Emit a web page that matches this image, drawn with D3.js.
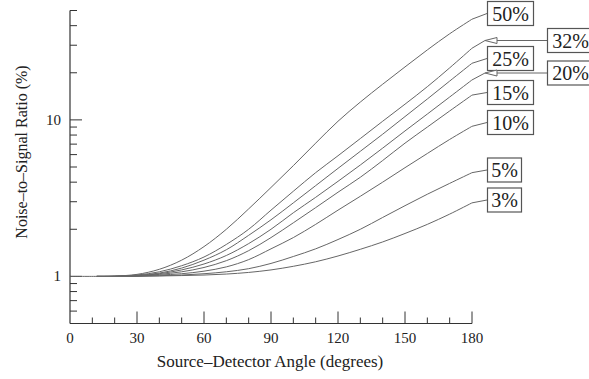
<!DOCTYPE html>
<html>
<head>
<meta charset="utf-8">
<script src="https://cdn.jsdelivr.net/npm/d3@7"></script>
<style>
  body { margin: 0; background: #fff; }
  svg text { font-family: "Liberation Serif", "Times New Roman", serif; }
</style>
</head>
<body>
<div id="chart"></div>
<script>
// Data
var angles = [0, 12, 20, 30, 40, 50, 60, 70, 80, 90, 100, 110, 120, 130, 140, 150, 160, 170, 180];

var labels = ["50%", "32%", "25%", "20%", "15%", "10%", "5%", "3%"];

var s50 = [null, 1, 1.005, 1.03, 1.11, 1.27, 1.55, 2.0, 2.7, 3.7, 5.1, 7.1, 9.8, 13.0, 16.9, 21.8, 28.0, 35.5, 44];
var s32 = [null, 1, 1.003, 1.02, 1.07, 1.17, 1.33, 1.6, 2.0, 2.65, 3.5, 4.6, 5.9, 7.6, 9.8, 12.6, 16.3, 21.5, 28.7];
var s25 = [null, 1, 1.0, 1.015, 1.05, 1.13, 1.27, 1.48, 1.83, 2.3, 2.95, 3.8, 4.9, 6.3, 8.1, 10.5, 13.6, 17.7, 23];
var s20 = [null, 1, 1.0, 1.01, 1.04, 1.1, 1.2, 1.36, 1.62, 2.0, 2.55, 3.2, 4.05, 5.15, 6.6, 8.5, 10.9, 14.0, 18];
var s15 = [null, 1, 1.0, 1.008, 1.03, 1.07, 1.14, 1.26, 1.46, 1.77, 2.2, 2.75, 3.45, 4.3, 5.5, 7.1, 9.0, 11.4, 14.4];
var s10 = [null, 1, 1.0, 1.005, 1.02, 1.04, 1.08, 1.15, 1.28, 1.5, 1.77, 2.15, 2.65, 3.25, 4.0, 4.95, 6.1, 7.5, 9.1];
var s5 = [null, 1, 1.0, 1.003, 1.01, 1.02, 1.04, 1.07, 1.12, 1.21, 1.34, 1.5, 1.72, 2.0, 2.38, 2.83, 3.35, 3.93, 4.6];
var s3 = [1, 1, 1.0, 1.002, 1.006, 1.012, 1.02, 1.035, 1.06, 1.1, 1.16, 1.24, 1.35, 1.49, 1.66, 1.88, 2.15, 2.5, 2.95];

var series = [s50, s32, s25, s20, s15, s10, s5, s3];

var xTicks = [0, 30, 60, 90, 120, 150, 180];
var yTicks = [1, 10];

// Layout of the label boxes (pixels)
var labelLayout = [
  {x: 487, cy: 13.5, arrow: false},
  {x: 547, cy: 40.5, arrow: true},
  {x: 487, cy: 58.5, arrow: false},
  {x: 547, cy: 73, arrow: true},
  {x: 487, cy: 92.5, arrow: false},
  {x: 487, cy: 122.5, arrow: false},
  {x: 487, cy: 170, arrow: false},
  {x: 487, cy: 200, arrow: false}
];

var svgWidth = 589;
var svgHeight = 379;

var svg = d3.select("#chart")
  .append("svg")
  .attr("width", svgWidth)
  .attr("height", svgHeight);

var x = d3.scaleLinear().domain([0, 180]).range([70, 472]);
var y = d3.scaleLog().domain([0.5, 50]).range([323.5, 10.5]);

var axisColor = "#333";
var textColor = "#222";

// axes lines
svg.append("line")
  .attr("x1", x(0)).attr("x2", x(0))
  .attr("y1", y(50)).attr("y2", y(0.5))
  .attr("stroke", axisColor).attr("stroke-width", 1.2);
svg.append("line")
  .attr("x1", x(0)).attr("x2", x(180))
  .attr("y1", y(0.5)).attr("y2", y(0.5))
  .attr("stroke", axisColor).attr("stroke-width", 1.2);

// x ticks (inward)
d3.range(10, 181, 10).forEach(function(d) {
  var major = d % 30 === 0;
  svg.append("line")
    .attr("x1", x(d)).attr("x2", x(d))
    .attr("y1", y(0.5)).attr("y2", y(0.5) - (major ? 12 : 6))
    .attr("stroke", axisColor);
});
svg.selectAll(".xlab")
  .data(xTicks)
  .enter()
  .append("text")
  .attr("x", d => x(d))
  .attr("y", 343)
  .attr("text-anchor", "middle")
  .attr("font-size", 15)
  .attr("fill", textColor)
  .text(d => d);

// y ticks (inward)
var yMinor = [0.6, 0.7, 0.8, 0.9, 2, 3, 4, 5, 6, 7, 8, 9, 20, 30, 40, 50];
yMinor.forEach(function(d) {
  svg.append("line")
    .attr("x1", x(0)).attr("x2", x(0) + 7)
    .attr("y1", y(d)).attr("y2", y(d))
    .attr("stroke", axisColor);
});
yTicks.forEach(function(d) {
  svg.append("line")
    .attr("x1", x(0)).attr("x2", x(0) + 12)
    .attr("y1", y(d)).attr("y2", y(d))
    .attr("stroke", axisColor);
});
svg.selectAll(".ylab")
  .data(yTicks)
  .enter()
  .append("text")
  .attr("x", 61)
  .attr("y", d => y(d) + 5)
  .attr("text-anchor", "end")
  .attr("font-size", 15)
  .attr("fill", textColor)
  .text(d => d);

// axis titles
svg.append("text")
  .attr("x", 270)
  .attr("y", 367)
  .attr("text-anchor", "middle")
  .attr("font-size", 17)
  .attr("fill", textColor)
  .text("Source\u2013Detector Angle (degrees)");

svg.append("text")
  .attr("transform", "translate(27,152) rotate(-90)")
  .attr("text-anchor", "middle")
  .attr("font-size", 16)
  .attr("fill", textColor)
  .text("Noise\u2013to\u2013Signal Ratio (%)");

// curves
var line = d3.line()
  .defined(d => d[1] != null)
  .x(d => x(d[0]))
  .y(d => y(d[1]))
  .curve(d3.curveCatmullRom.alpha(0.5));

var curveColor = "#666";

series.forEach(function(vals, i) {
  var pts = angles.map((a, j) => [a, vals[j]]);
  svg.append("path")
    .datum(pts)
    .attr("d", line)
    .attr("fill", "none")
    .attr("stroke", curveColor)
    .attr("stroke-width", 1);

  var lay = labelLayout[i];
  var ex = x(180), ey = y(vals[vals.length - 1]);
  var txt = labels[i];
  var boxW = txt.length === 3 ? 46 : 34;
  var boxH = 24;

  if (lay.arrow) {
    var ax = 485;
    svg.append("path")
      .attr("d", `M${ex},${ey} L${ax},${lay.cy}`)
      .attr("stroke", curveColor).attr("fill", "none");
    svg.append("path")
      .attr("d", `M${ax + 12},${lay.cy - 3} L${ax},${lay.cy} L${ax + 12},${lay.cy + 3} Z`)
      .attr("stroke", curveColor).attr("fill", "#fff").attr("stroke-width", 1);
    svg.append("line")
      .attr("x1", ax + 12).attr("x2", lay.x)
      .attr("y1", lay.cy).attr("y2", lay.cy)
      .attr("stroke", curveColor);
  } else {
    svg.append("path")
      .attr("d", `M${ex},${ey} L${lay.x},${lay.cy}`)
      .attr("stroke", curveColor).attr("fill", "none");
  }

  svg.append("rect")
    .attr("x", lay.x + 0.5)
    .attr("y", lay.cy - boxH / 2)
    .attr("width", boxW)
    .attr("height", boxH)
    .attr("fill", "#fff")
    .attr("stroke", "#555")
    .attr("stroke-width", 1.2);

  svg.append("text")
    .attr("x", lay.x + 0.5 + boxW / 2)
    .attr("y", lay.cy + 7)
    .attr("text-anchor", "middle")
    .attr("font-size", 20)
    .attr("fill", textColor)
    .text(txt);
});
</script>
</body>
</html>
